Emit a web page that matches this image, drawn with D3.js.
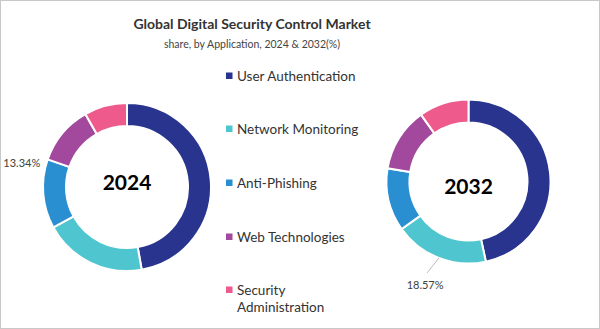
<!DOCTYPE html>
<html>
<head>
<meta charset="utf-8">
<script src="https://cdn.jsdelivr.net/npm/d3@7"></script>
<style>
  body { margin: 0; background: #fff; }
  svg { display: block; font-family: Lato, "Open Sans", sans-serif; }
</style>
</head>
<body>
<div id="chart"></div>
<script>
// categorias y participacion por año (%)
var categories = ["User Authentication", "Network Monitoring", "Anti-Phishing", "Web Technologies", "Security Administration"];
var share2024 = [47.2, 19.8, 13.34, 11.4, 8.26];
var share2032 = [46.6, 18.57, 12.4, 12.6, 9.83];
var years = ["2024", "2032"];
var colors = ["#29348f", "#4ec5cf", "#2a8fd0", "#a2499e", "#ee5a8b"];

var width = 600, height = 329;

var svg = d3.select("#chart").append("svg")
    .attr("width", width)
    .attr("height", height);

// marco
svg.append("rect")
    .attr("x", 0.5).attr("y", 0.5)
    .attr("width", width - 1).attr("height", height - 1)
    .attr("fill", "#fff")
    .attr("stroke", "#c8c8c8");

// titulos
svg.append("text")
    .attr("x", 252).attr("y", 29)
    .attr("text-anchor", "middle")
    .style("font-size", "14px")
    .style("font-weight", "bold")
    .attr("fill", "#333")
    .text("Global Digital Security Control Market");

svg.append("text")
    .attr("x", 252).attr("y", 48)
    .attr("text-anchor", "middle")
    .style("font-size", "10.5px")
    .attr("fill", "#444")
    .text("share, by Application, 2024 & 2032(%)");

var color = d3.scaleOrdinal().domain(categories).range(colors);

var pie = d3.pie().sort(null).value(function(d) { return d.value; });

// cada donut: centro, radios, año y la etiqueta que se muestra
var donuts = [
  { year: years[0], values: share2024, cx: 127, cy: 187, outer: 84, inner: 61, textDy: -4,
    label: { index: 2, t: 0.97, r: 89, anchor: "end", dx: -2, dy: 7, leader: false } },
  { year: years[1], values: share2032, cx: 468.5, cy: 181.5, outer: 82, inner: 59, textDy: 5,
    label: { index: 1, t: 0.5, r: 98, anchor: "middle", dx: -8, dy: 16, leader: true } }
];

donuts.forEach(function(dn) {
  var data = categories.map(function(c, i) { return { name: c, value: dn.values[i] }; });

  var g = svg.append("g")
      .attr("transform", "translate(" + dn.cx + "," + dn.cy + ")");

  var arc = d3.arc()
      .outerRadius(dn.outer)
      .innerRadius(dn.inner);

  var arcs = pie(data);

  g.selectAll("path")
      .data(arcs)
    .enter().append("path")
      .attr("d", arc)
      .attr("fill", function(d) { return color(d.data.name); })
      .attr("stroke", "#fff")
      .attr("stroke-width", 2);

  // año en el centro
  g.append("text")
      .attr("text-anchor", "middle")
      .attr("dy", "0.35em")
      .attr("y", dn.textDy)
      .style("font-size", "21px")
      .style("font-weight", "bold")
      .attr("fill", "#000")
      .text(dn.year);

  // etiqueta de valor
  var s = arcs[dn.label.index];
  var a = s.startAngle + (s.endAngle - s.startAngle) * dn.label.t;
  var p0 = [Math.sin(a) * dn.outer, -Math.cos(a) * dn.outer];
  var p1 = [Math.sin(a) * dn.label.r, -Math.cos(a) * dn.label.r];

  if (dn.label.leader) {
    g.append("line")
        .attr("x1", p0[0]).attr("y1", p0[1])
        .attr("x2", p1[0] - 6).attr("y2", p1[1])
        .attr("stroke", "#aaa")
        .attr("stroke-width", 0.8);
  }

  g.append("text")
      .attr("x", p1[0] + dn.label.dx)
      .attr("y", p1[1] + dn.label.dy)
      .attr("text-anchor", dn.label.anchor)
      .style("font-size", "11px")
      .attr("fill", "#404040")
      .text(s.data.value.toFixed(2) + "%");
});

// leyenda
var legendY = [76, 129, 183, 237, 290];
var legend = svg.append("g");

categories.forEach(function(c, i) {
  var row = legend.append("g")
      .attr("transform", "translate(226," + legendY[i] + ")");
  row.append("rect")
      .attr("x", 0).attr("y", -3.5)
      .attr("width", 6.5).attr("height", 6.5)
      .attr("fill", color(c));
  var words = c === "Security Administration" ? ["Security", "Administration"] : [c];
  words.forEach(function(w, j) {
    row.append("text")
        .attr("x", 11)
        .attr("y", j * 17)
        .attr("dy", "0.35em")
        .style("font-size", "13.5px")
        .attr("fill", "#333")
        .text(w);
  });
});
</script>
</body>
</html>
